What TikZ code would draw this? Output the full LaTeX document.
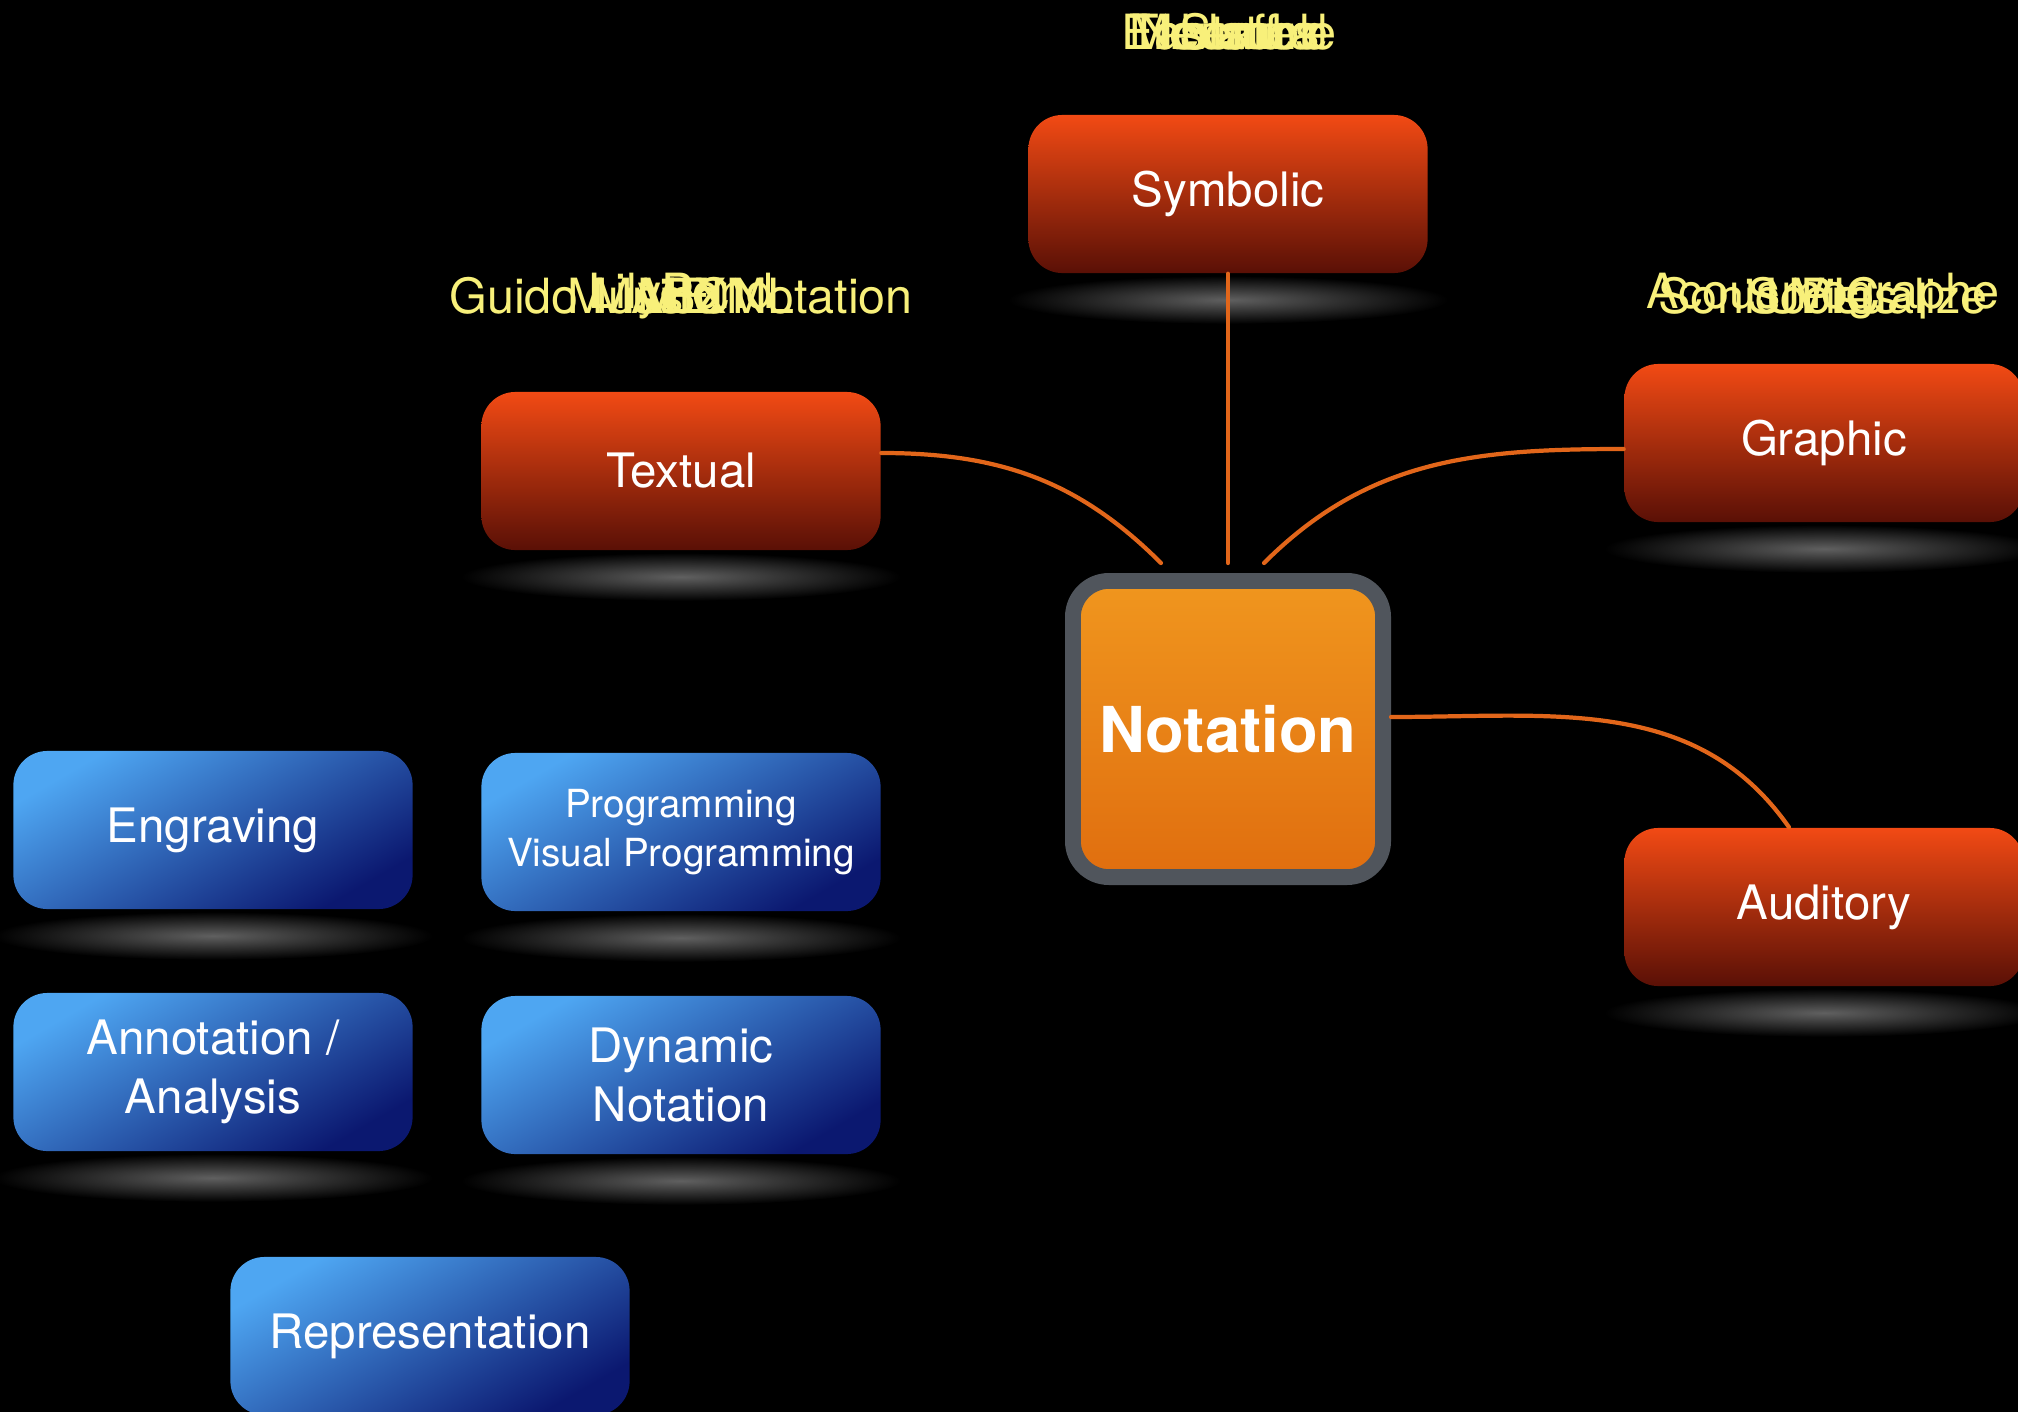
\documentclass[tikz,border=0pt]{standalone}
\usepackage{fontspec}
\setmainfont{TeX Gyre Heros}
\usetikzlibrary{positioning,backgrounds,fadings,decorations.pathmorphing}
\tikzfading[name=band, inner color=transparent!10, outer color=transparent!100]
\definecolor{redtop}{HTML}{F24A14}
\definecolor{redbot}{HTML}{5A1006}
\definecolor{bluetop}{HTML}{4EA6F2}
\definecolor{bluebot}{HTML}{0B1870}
\definecolor{orgtop}{HTML}{F0961E}
\definecolor{orgbot}{HTML}{E06E0F}
\definecolor{rim}{HTML}{50555C}
\definecolor{wire}{HTML}{E2661A}
\definecolor{tag}{HTML}{F8F07A}
\begin{document}
\begin{tikzpicture}[x=0.01cm, y=-0.01cm, line join=round, line cap=round,
  box/.style={rounded corners=0.34cm, minimum width=3.99cm, minimum height=1.58cm,
    text=white, align=center, font=\fontsize{13.5}{16.8}\selectfont},
  redbox/.style={box, top color=redtop, bottom color=redbot},
  bluebox/.style={box, top color=bluetop, bottom color=bluebot, shading angle=30},
  tagtext/.style={text=tag, font=\fontsize{13.8}{16}\selectfont},
  wire/.style={draw=wire, line width=1.2pt}]
\useasboundingbox (0,0) rectangle (2018,1412);
% categories
\node[redbox] (symbolic) at (1228,194) {Symbolic};
\node[redbox] (textual) at (681,471) {Textual};
\node[redbox] (graphic) at (1824,443) {Graphic};
\node[redbox] (auditory) at (1824,907) {Auditory};
% centre
\node[rounded corners=0.36cm, minimum width=3.1cm, minimum height=2.96cm,
  top color=orgtop, bottom color=orgbot, draw=rim, line width=4.5pt, text=white,
  font=\bfseries\fontsize{18}{22}\selectfont,
  postaction={draw=rim, line width=1.4pt, sharp corners, decorate,
    decoration={random steps, segment length=1.2pt, amplitude=1pt}}]
  (notation) at (1228,729) {Notation};
% uses
\node[bluebox] (engraving) at (213,830) {Engraving};
\node[bluebox, font=\fontsize{11}{14}\selectfont] (program) at (681,832) {Programming\\Visual Programming};
\node[bluebox] (annotation) at (213,1072) {Annotation /\\Analysis};
\node[bluebox] (dynamic) at (681,1075) {Dynamic\\Notation};
\node[bluebox] (represent) at (430,1336) {Representation};
% overlaid format names
\foreach \w [count=\i] in {Mensural, Staff, Tablature, Neumes, Ensemble}
  \node[tagtext] (symtag\i) at (1229,32) {\w};
\foreach \w [count=\i] in {Guido Music Notation, MusicXML, LilyPond, ABC, MEI}
  \node[tagtext] (texttag\i) at (681,296) {\w};
\foreach \w [count=\i] in {Acousmographe, Sonic Visualize, Scores, UPIC}
  \node[tagtext] (graphtag\i) at (1823,296) {\w};
% links
\draw[wire] ([yshift=0.18cm]textual.east) to[out=0,in=135] ([xshift=-0.67cm,yshift=0.1cm]notation.north);
\draw[wire] (symbolic.south) -- ([yshift=0.1cm]notation.north);
\draw[wire] ([yshift=-0.06cm]graphic.west) to[out=180,in=45] ([xshift=0.36cm,yshift=0.1cm]notation.north);
\draw[wire] ([yshift=0.12cm]notation.east) to[out=0,in=125] ([xshift=-0.35cm]auditory.north);
\begin{scope}[on background layer]
\fill[black] (0,0) rectangle (2018,1412);
\foreach \n in {symbolic,textual,graphic,auditory,engraving,program,annotation,dynamic}
  \fill[white!42!black, path fading=band] ([yshift=-0.26cm]\n.south) ellipse [x radius=2.2cm, y radius=0.24cm];
\end{scope}
\end{tikzpicture}
\end{document}
